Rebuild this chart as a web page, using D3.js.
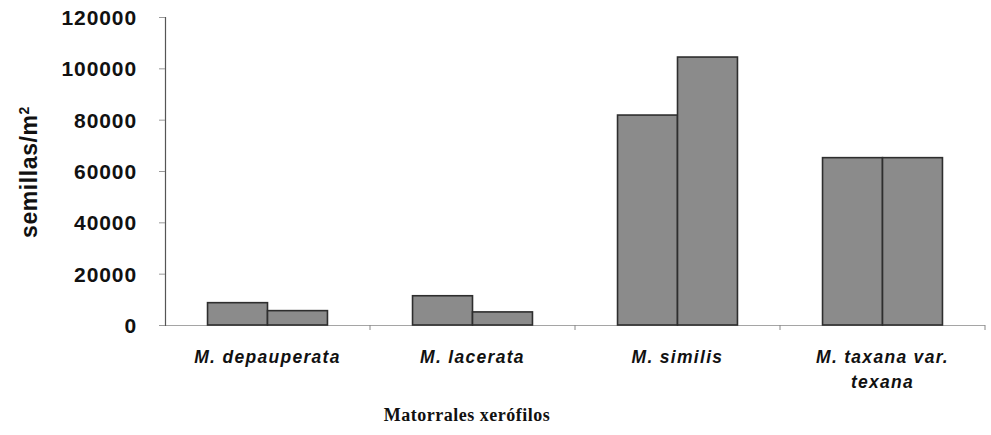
<!DOCTYPE html>
<html><head><meta charset="utf-8">
<script src="https://cdn.jsdelivr.net/npm/d3@7"></script>
<style>
body{margin:0;background:#fff;}
svg{display:block;}
</style></head>
<body>
<svg id="chart" width="991" height="435"></svg>
<script>
const categories = [["M. depauperata"], ["M. lacerata"], ["M. similis"], ["M. taxana var.", "texana"]];
const categoryKeys = ["M. depauperata", "M. lacerata", "M. similis", "M. taxana var. texana"];
const series1 = [8700, 11400, 81800, 65200];
const series2 = [5600, 5100, 104400, 65200];
const yTicks = [0, 20000, 40000, 60000, 80000, 100000, 120000];
const yTitle = "semillas/m";
const xTitle = "Matorrales xerófilos";

const svg = d3.select("#chart");
const mLeft = 165, mRight = 985, mTop = 17, mBottom = 325;

const x0 = d3.scaleBand().domain(categoryKeys).range([mLeft, mRight])
  .paddingInner(0.415).paddingOuter(0.2075);
const x1 = d3.scaleBand().domain([0, 1]).range([0, x0.bandwidth()]);
const y = d3.scaleLinear().domain([0, 120000]).range([mBottom, mTop]);

// faint x baseline
svg.append("line").attr("x1", mLeft).attr("x2", mRight).attr("y1", mBottom + 0.5).attr("y2", mBottom + 0.5)
  .attr("stroke", "#a5a5a5").attr("stroke-width", 1);
// x tick marks between groups
const step = x0.step();
categoryKeys.forEach((k, i) => {
  const xx = x0(k) + x0.bandwidth() + (step - x0.bandwidth()) / 2;
  svg.append("line").attr("x1", xx).attr("x2", xx).attr("y1", mBottom).attr("y2", mBottom + 5)
    .attr("stroke", "#888").attr("stroke-width", 1);
});

// y axis
const yAxis = d3.axisLeft(y).tickValues(yTicks).tickSize(6).tickPadding(22).tickFormat(d3.format("d"));
const gy = svg.append("g").attr("transform", `translate(${mLeft},0)`).call(yAxis);
gy.select(".domain").attr("stroke", "#555").attr("stroke-width", 1.2);
gy.selectAll(".tick line").attr("stroke", "#999");
gy.selectAll(".tick text").attr("font-family", "Liberation Sans, Arial, sans-serif")
  .attr("font-weight", "bold").attr("font-size", "21px").attr("fill", "#111")
  .attr("letter-spacing", "0.9px").attr("dy", "0.36em");

// bars
const grp = svg.append("g").selectAll("g").data(categoryKeys).join("g")
  .attr("transform", d => `translate(${x0(d)},0)`);
grp.selectAll("rect").data((d, i) => [series1[i], series2[i]]).join("rect")
  .attr("x", (d, j) => x1(j))
  .attr("width", x1.bandwidth())
  .attr("y", d => y(d))
  .attr("height", d => y(0) - y(d))
  .attr("fill", "#8b8b8b")
  .attr("stroke", "#2e2e2e")
  .attr("stroke-width", 1.6);

// category labels
categories.forEach((lines, i) => {
  const cx = x0(categoryKeys[i]) + x0.bandwidth() / 2;
  const t = svg.append("text").attr("x", cx).attr("y", 363)
    .attr("text-anchor", "middle")
    .attr("font-family", "Liberation Sans, Arial, sans-serif")
    .attr("font-weight", "bold").attr("font-style", "italic")
    .attr("font-size", "17.5px").attr("fill", "#111")
    .attr("letter-spacing", "1.3px");
  lines.forEach((ln, j) => {
    t.append("tspan").attr("x", cx).attr("dy", j === 0 ? 0 : 25).text(ln);
  });
});

// y title
const yt = svg.append("text")
  .attr("transform", "translate(37,172) rotate(-90)")
  .attr("text-anchor", "middle")
  .attr("font-family", "Liberation Sans, Arial, sans-serif")
  .attr("font-weight", "bold").attr("font-size", "23px").attr("fill", "#111")
  .attr("letter-spacing", "0.6px");
yt.append("tspan").text(yTitle);
yt.append("tspan").attr("baseline-shift", "super").attr("font-size", "14px").text("2");

// x title
svg.append("text").attr("x", 467).attr("y", 421)
  .attr("text-anchor", "middle")
  .attr("font-family", "Liberation Serif, Times New Roman, serif")
  .attr("font-weight", "bold").attr("font-size", "18px").attr("fill", "#111")
  .attr("letter-spacing", "0.5px")
  .text(xTitle);
</script>
</body></html>
